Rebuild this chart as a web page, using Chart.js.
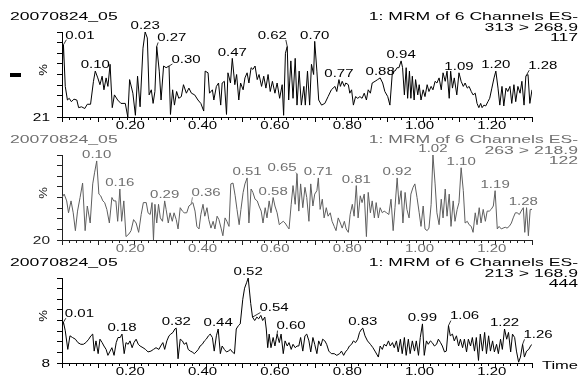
<!DOCTYPE html>
<html>
<head>
<meta charset="utf-8">
<script src="https://cdn.jsdelivr.net/npm/chart.js@4.4.1/dist/chart.umd.min.js"></script>
<style>
  html, body { margin: 0; padding: 0; background: #fff; }
  #wrap { position: relative; width: 587px; height: 376px; overflow: hidden; }
  #wrap canvas { position: absolute; left: 0; top: 0; }
</style>
</head>
<body>
<div id="wrap">
  <canvas id="c1" width="587" height="376"></canvas>
  <canvas id="c2" width="587" height="376"></canvas>
  <canvas id="c3" width="587" height="376"></canvas>
</div>
<script>
// retention time ticks (min)
const xTickValues = [0.2, 0.4, 0.6, 0.8, 1.0, 1.2];
const xTickLabels = ['0.20', '0.40', '0.60', '0.80', '1.00', '1.20'];

// channel 1: 313 > 268.9
const times1 = [0.000,0.004,0.009,0.015,0.020,0.026,0.033,0.041,0.046,0.054,
  0.063,0.070,0.079,0.087,0.092,0.099,0.105,0.111,0.116,0.122,
  0.127,0.133,0.139,0.145,0.154,0.163,0.175,0.182,0.187,0.196,
  0.203,0.209,0.216,0.224,0.230,0.236,0.241,0.247,0.252,0.257,
  0.262,0.269,0.274,0.281,0.288,0.296,0.300,0.306,0.311,0.317,
  0.323,0.330,0.336,0.344,0.351,0.358,0.367,0.376,0.384,0.392,
  0.396,0.404,0.408,0.416,0.420,0.427,0.433,0.439,0.443,0.449,
  0.455,0.459,0.466,0.471,0.478,0.483,0.489,0.494,0.501,0.506,
  0.512,0.517,0.523,0.528,0.534,0.540,0.545,0.552,0.558,0.564,
  0.570,0.576,0.582,0.589,0.595,0.602,0.609,0.613,0.618,0.623,
  0.627,0.633,0.639,0.645,0.650,
  0.656,0.662,0.669,0.673,0.679,0.685,0.690,0.696,0.699,0.705,
  0.710,0.718,0.727,0.736,0.745,0.755,0.760,0.766,0.770,0.775,
  0.781,0.785,0.792,0.796,0.801,0.806,0.812,0.818,0.824,0.830,
  0.836,0.842,0.847,0.853,0.858,0.866,0.873,0.880,0.887,0.893,
  0.901,0.907,0.914,0.921,0.927,0.932,0.938,0.942,0.947,0.952,
  0.956,0.961,0.965,0.969,0.974,0.978,0.984,0.988,0.993,0.999,
  1.004,1.010,1.015,1.021,1.026,1.032,1.037,1.043,1.049,1.054,
  1.060,1.065,1.071,1.075,1.080,1.085,1.092,1.098,1.104,1.110,
  1.115,1.121,1.126,1.132,1.137,1.143,1.148,1.153,1.158,1.162,
  1.167,1.172,1.178,1.183,1.189,1.195,1.200,1.206,1.211,1.217,
  1.222,1.228,1.233,1.239,1.244,1.250,1.255,1.261,1.267,1.272,
  1.278,1.283,1.289,1.294,1.300];
const values1 = [54,85,36,20,22,18,21,20,11,12,
  10,15,15,42,54,46,38,48,32,46,
  36,62,11,26,20,16,16,0,44,28,
  2,48,12,81,100,93,26,32,16,30,
  83,54,20,60,58,60,3,32,14,30,
  22,24,38,28,34,28,26,20,16,7,
  54,52,28,32,20,36,40,14,40,42,
  3,52,40,69,38,50,20,40,32,46,
  52,40,58,56,60,44,50,36,48,34,
  50,30,42,28,40,22,38,2,75,83,
  20,66,22,69,14,
  54,14,36,14,54,14,62,50,89,54,
  20,14,16,24,32,36,30,44,36,42,
  36,40,38,28,32,14,24,22,24,22,
  28,20,32,28,40,42,44,46,40,30,
  24,14,54,54,58,58,66,58,26,58,
  22,54,22,48,20,44,26,38,20,32,
  24,38,30,36,32,42,40,46,32,52,
  42,54,22,54,34,46,26,52,42,36,
  40,34,36,30,26,28,16,11,16,11,
  14,13,18,22,34,46,54,34,14,36,
  13,34,30,36,16,38,18,36,28,42,
  14,48,50,16,32];
const peaks1 = ['0.01','0.10','0.23','0.27','0.30','0.47','0.62','0.70','0.77','0.88','0.94','1.09','1.20','1.28'];
const peakTimes1 = [0.004,0.092,0.230,0.262,0.296,0.471,0.623,0.699,0.766,0.880,0.938,1.098,1.200,1.283];

// channel 2: 263 > 218.9
const times2 = [0.000,0.006,0.013,0.018,0.025,0.031,0.037,0.043,0.050,0.057,
  0.064,0.070,0.078,0.085,0.090,0.096,0.102,0.107,0.113,0.118,
  0.124,0.131,0.138,0.143,0.149,0.154,0.160,0.165,0.171,0.177,
  0.185,0.191,0.198,0.205,0.212,0.219,0.225,0.233,0.238,0.244,
  0.249,0.253,0.257,0.262,0.267,0.272,0.278,0.284,0.288,0.294,
  0.299,0.305,0.310,0.316,0.321,0.327,0.333,0.338,0.345,0.351,
  0.357,0.362,0.368,0.373,0.379,0.384,0.390,0.395,0.401,0.406,
  0.412,0.418,0.423,0.429,0.434,0.440,0.445,0.451,0.456,0.462,
  0.467,0.473,0.479,0.484,0.490,0.495,0.501,0.506,0.512,0.517,
  0.523,0.528,0.534,0.540,0.545,0.551,0.556,0.562,0.567,0.573,
  0.578,0.584,0.589,0.595,0.601,0.606,0.612,0.617,0.623,0.628,
  0.634,0.639,0.645,0.650,
  0.655,0.660,0.666,0.672,0.677,0.683,0.688,0.694,0.699,0.705,
  0.709,0.714,0.720,0.725,0.731,0.736,0.742,0.747,0.753,0.758,
  0.764,0.770,0.775,0.781,0.786,0.792,0.797,0.803,0.808,0.814,
  0.819,0.825,0.830,0.836,0.842,0.847,0.853,0.858,0.864,0.869,
  0.875,0.880,0.886,0.891,0.898,0.904,0.910,0.916,0.921,0.927,
  0.932,0.938,0.943,0.949,0.954,0.960,0.965,0.971,0.976,0.982,
  0.988,0.993,0.999,1.004,1.010,1.015,1.021,1.026,1.032,1.037,
  1.043,1.049,1.054,1.060,1.065,1.071,1.076,1.082,1.087,1.093,
  1.098,1.104,1.110,1.115,1.121,1.126,1.132,1.137,1.143,1.148,
  1.154,1.159,1.165,1.171,1.176,1.182,1.187,1.193,1.198,1.204,
  1.209,1.215,1.220,1.226,1.231,1.237,1.243,1.248,1.254,1.259,
  1.265,1.270,1.276,1.280,1.285,1.290,1.295,1.300];
const values2 = [50,54,46,32,46,32,11,34,50,67,
  11,40,20,66,79,93,54,52,46,44,
  36,20,50,46,46,22,60,22,46,4,
  7,11,24,20,9,30,44,44,32,30,
  44,0,42,20,42,26,22,46,36,20,
  32,22,32,24,13,38,34,32,32,40,
  42,44,34,16,13,30,42,28,38,24,
  14,22,13,28,24,14,5,26,22,16,
  66,67,52,36,18,36,56,66,73,20,
  60,56,48,46,40,34,20,38,26,46,
  32,50,40,32,18,20,22,20,16,13,
  42,64,42,78,
  34,66,38,62,50,22,66,40,54,58,
  73,36,48,26,38,28,32,22,16,11,
  26,20,14,22,13,9,30,42,28,64,
  26,52,44,54,4,56,32,46,26,44,
  26,38,32,34,32,30,48,11,38,73,
  42,58,20,56,36,26,54,62,66,50,
  32,16,40,13,11,14,42,100,66,32,
  18,48,26,60,28,54,16,46,22,36,
  44,85,58,20,22,18,16,9,32,18,
  38,20,36,22,34,34,36,40,58,13,
  16,13,14,15,14,16,20,26,32,32,
  30,34,38,9,38,5,36,36];
const peaks2 = ['0.10','0.16','0.29','0.36','0.51','0.58','0.65','0.71','0.81','0.92','1.02','1.10','1.19','1.28'];
const peakTimes2 = [0.096,0.160,0.284,0.357,0.512,0.584,0.650,0.709,0.814,0.927,1.026,1.104,1.198,1.276];

// channel 3: 213 > 168.9
const times3 = [0.000,0.004,0.009,0.016,0.022,0.029,0.037,0.044,0.052,0.059,
  0.066,0.074,0.080,0.085,0.089,0.094,0.100,0.105,0.111,0.116,
  0.122,0.127,0.133,0.138,0.144,0.150,0.155,0.161,0.166,0.172,
  0.177,0.183,0.188,0.194,0.199,0.205,0.211,0.216,0.224,0.231,
  0.238,0.246,0.253,0.260,0.268,0.273,0.279,0.284,0.290,0.296,
  0.301,0.307,0.312,0.316,0.321,0.327,0.333,0.338,0.344,0.349,
  0.355,0.360,0.366,0.371,0.377,0.382,0.388,0.394,0.399,0.405,
  0.410,0.416,0.421,0.427,0.432,0.438,0.443,0.449,0.455,0.460,
  0.466,0.471,0.477,0.482,0.488,0.493,0.500,0.505,0.511,0.515,
  0.522,0.527,0.533,0.539,0.544,0.550,0.555,0.561,0.565,0.569,
  0.573,0.578,0.584,0.589,0.595,0.601,0.606,0.612,0.617,0.623,
  0.628,0.634,0.639,0.645,0.650,
  0.655,0.660,0.666,0.672,0.677,0.683,0.688,0.694,0.699,0.705,
  0.710,0.716,0.721,0.727,0.732,0.738,0.745,0.753,0.760,0.768,
  0.773,0.779,0.784,0.790,0.795,0.801,0.806,0.812,0.818,0.823,
  0.829,0.832,0.838,0.845,0.853,0.860,0.867,0.875,0.880,0.886,
  0.891,0.897,0.903,0.908,0.914,0.919,0.925,0.930,0.936,0.941,
  0.947,0.952,0.958,0.963,0.969,0.975,0.980,0.986,0.991,0.997,
  1.002,1.008,1.013,1.019,1.024,1.030,1.036,1.041,1.047,1.052,
  1.058,1.063,1.069,1.074,1.080,1.085,1.091,1.097,1.102,1.108,
  1.113,1.119,1.124,1.130,1.135,1.141,1.146,1.152,1.157,1.163,
  1.169,1.174,1.180,1.185,1.191,1.196,1.202,1.207,1.213,1.218,
  1.224,1.230,1.235,1.241,1.246,1.252,1.257,1.263,1.268,1.274,
  1.279,1.285,1.291,1.296,1.300];
const values3 = [42,48,38,16,32,30,28,24,22,22,
  24,28,32,34,14,26,11,28,24,20,
  16,9,14,18,9,24,30,30,34,11,
  24,22,26,18,24,28,22,20,18,16,
  13,14,16,18,16,20,24,16,26,32,
  34,36,40,41,5,28,26,22,24,16,
  14,13,11,13,16,20,22,26,28,32,
  34,30,14,32,40,11,20,16,13,14,
  16,13,11,40,44,46,75,88,95,100,
  70,54,50,54,52,56,50,54,40,18,
  34,18,30,20,34,24,34,11,26,20,
  24,16,22,18,20,
  20,30,14,32,34,26,13,30,22,11,
  26,20,28,26,22,14,11,11,9,11,
  14,9,13,16,20,22,26,24,28,36,
  40,41,32,26,22,18,13,7,20,16,
  22,20,26,20,24,18,26,13,28,11,
  30,9,28,11,26,14,26,9,30,46,
  9,26,22,26,24,20,22,28,24,20,
  13,14,44,32,34,26,32,20,28,18,
  28,13,28,20,30,14,30,3,34,14,
  36,11,32,14,26,13,22,11,28,16,
  40,28,36,13,34,30,14,1,7,22,
  7,14,16,20,22];
const peaks3 = ['0.01','0.18','0.32','0.44','0.52','0.54','0.60','0.83','0.99','1.06','1.22','1.26'];
const peakTimes3 = [0.004,0.166,0.316,0.432,0.515,0.527,0.595,0.832,0.997,1.069,1.224,1.274];

const FONT = '"Liberation Sans", Arial, Helvetica, sans-serif';

// MassLynx style text is drawn wide, so squeeze it through a horizontal scale
function wideText(ctx, text, x, y, align, size, sx) {
  ctx.save();
  ctx.translate(x, y);
  ctx.scale(sx, 1);
  ctx.font = size + 'px ' + FONT;
  ctx.textAlign = align;
  ctx.textBaseline = 'middle';
  ctx.fillText(text, 0, 0);
  ctx.restore();
}

const panels = {
  c1: {
    top: 32, line: '#000', text: '#000', axis: '#000',
    title: '20070824_05', header: ['1: MRM of 6 Channels ES-', '313 > 268.9', '117'], yMin: '21',
    peaks: peaks1, peakTimes: peakTimes1, marker: true,
    leaders: { '0.01': [16.5, -9], '0.27': [15, -8], '0.30': [17, -6], '0.62': [-15, -10.5], '1.28': [17, -10] }
  },
  c2: {
    top: 155, line: '#5e5e5e', text: '#707070', axis: '#222',
    title: '20070824_05', header: ['1: MRM of 6 Channels ES-', '263 > 218.9', '122'], yMin: '20',
    peaks: peaks2, peakTimes: peakTimes2,
    leaders: { '0.36': [15, -11], '0.65': [-15, -5] }
  },
  c3: {
    top: 278, line: '#000', text: '#000', axis: '#000',
    title: '20070824_05', header: ['1: MRM of 6 Channels ES-', '213 > 168.9', '444'], yMin: '8',
    peaks: peaks3, peakTimes: peakTimes3, timeLabel: 'Time',
    leaders: { '0.01': [16, -8], '0.54': [21.5, -8.6], '0.60': [14, -7.5], '1.06': [16, -9], '1.26': [15.5, -9] }
  }
};

const tracePlugin = {
  id: 'trace',
  afterDraw(chart) {
    const o = panels[chart.canvas.id];
    const { ctx, chartArea: a } = chart;
    const x = chart.scales.x, y = chart.scales.y;
    ctx.save();
    ctx.fillStyle = o.text;
    ctx.strokeStyle = o.text;

    wideText(ctx, o.title, 10, a.top - 15, 'left', 11, 1.6);
    o.header.forEach((s, i) => wideText(ctx, s, 578, a.top - 15 + i * 10.5, 'right', 11, 1.6));

    ctx.fillStyle = o.axis;
    wideText(ctx, o.yMin, 50, a.bottom + 1, 'right', 11, 1.4);
    ctx.save();
    ctx.translate(44, a.top + 38);
    ctx.rotate(-Math.PI / 2);
    ctx.scale(1.2, 1);
    ctx.font = '11px ' + FONT;
    ctx.textAlign = 'center';
    ctx.textBaseline = 'middle';
    ctx.fillText('%', 0, 0);
    ctx.restore();
    ctx.fillStyle = o.text;

    xTickValues.forEach((v, i) => {
      wideText(ctx, xTickLabels[i], x.getPixelForValue(v) - 4, a.bottom + 9, 'center', 10, 1.5);
    });
    if (o.timeLabel) wideText(ctx, o.timeLabel, 560, a.bottom + 2.5, 'center', 11, 1.5);
    if (o.marker) ctx.fillRect(10, 73, 11, 4);

    const pts = chart.data.datasets[0].data;
    ctx.font = '10px ' + FONT;
    o.peaks.forEach((lab, i) => {
      const t = o.peakTimes[i];
      let p = pts[0];
      pts.forEach(q => { if (Math.abs(q.x - t) < Math.abs(p.x - t)) p = q; });
      const px = x.getPixelForValue(p.x), py = y.getPixelForValue(p.y);
      const sh = o.leaders[lab];
      if (sh) {
        const lx = px + sh[0], ly = py + sh[1];
        const hw = ctx.measureText(lab).width * 1.5 / 2;
        ctx.beginPath();
        ctx.lineWidth = 0.8;
        ctx.moveTo(px, py);
        ctx.lineTo(sh[0] > 0 ? lx - hw + 1 : lx + hw - 1, ly + 4);
        ctx.stroke();
        wideText(ctx, lab, lx, ly, 'center', 10, 1.5);
      } else {
        wideText(ctx, lab, px, py - 5.5, 'center', 10, 1.5);
      }
    });
    ctx.restore();
  }
};

function makeChart(id, times, values) {
  const o = panels[id];
  const points = times.map((t, i) => ({ x: t, y: values[i] }));
  const grid = (len) => ({ drawOnChartArea: false, drawTicks: true, tickLength: len, tickColor: o.axis, tickWidth: 1 });
  return new Chart(document.getElementById(id), {
    type: 'line',
    data: {
      datasets: [{
        data: points,
        borderColor: o.line,
        borderWidth: 1,
        pointRadius: 0,
        tension: 0,
        fill: false
      }]
    },
    options: {
      responsive: false,
      animation: false,
      devicePixelRatio: 1,
      layout: { padding: { left: 62, right: 55, top: o.top, bottom: 376 - o.top - 85 } },
      plugins: { legend: { display: false }, tooltip: { enabled: false } },
      scales: {
        x: {
          type: 'linear', position: 'bottom', min: 0, max: 1.3,
          ticks: { display: false, stepSize: 0.1, autoSkip: false },
          grid: grid(5),
          border: { display: true, color: o.axis, width: 1 },
          afterFit: s => { s.height = 0; }
        },
        xm: {
          type: 'linear', position: 'bottom', min: 0, max: 1.3,
          ticks: { display: false, stepSize: 0.02, autoSkip: false },
          grid: grid(3),
          border: { display: false },
          afterFit: s => { s.height = 0; }
        },
        y: {
          type: 'linear', position: 'left', min: 0, max: 100,
          ticks: { display: false, stepSize: 12.5 },
          grid: grid(5),
          border: { display: true, color: o.axis, width: 1 },
          afterFit: s => { s.width = 0; }
        }
      }
    },
    plugins: [tracePlugin]
  });
}

makeChart('c1', times1, values1);
makeChart('c2', times2, values2);
makeChart('c3', times3, values3);
</script>
</body>
</html>
